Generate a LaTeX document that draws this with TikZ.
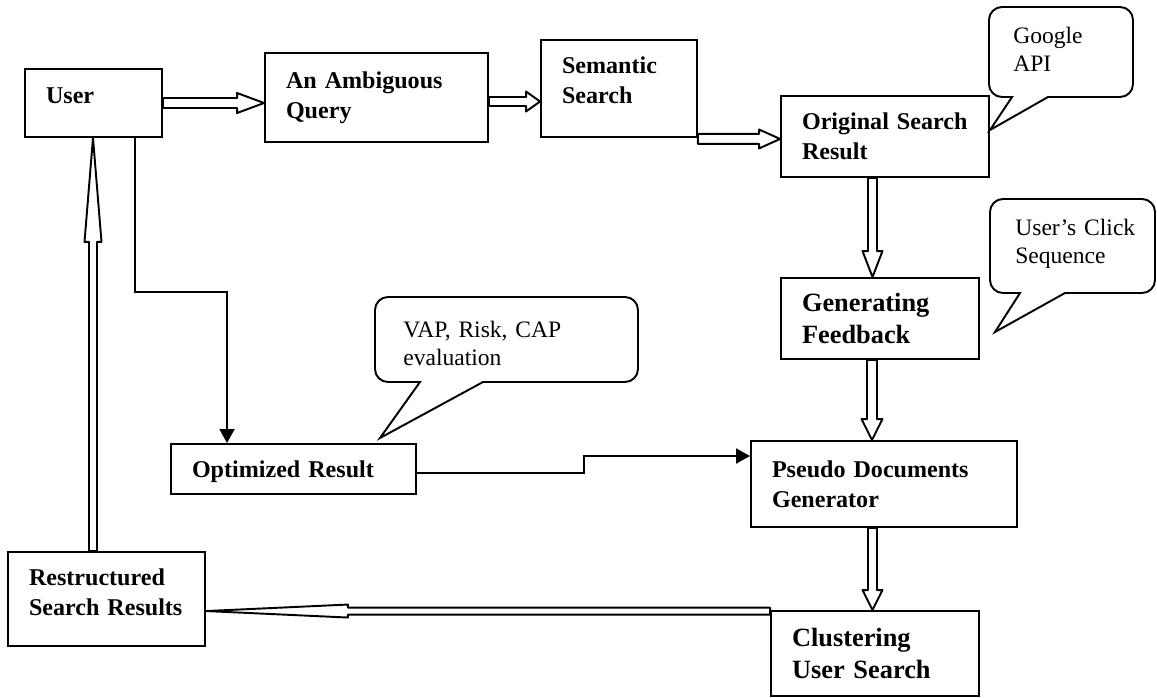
\documentclass[tikz,border=0pt]{standalone}
\usepackage{fontspec}
\setmainfont{Liberation Serif}
\usetikzlibrary{calc,arrows.meta}

\newcommand{\blockfont}{\fontsize{13.7}{17}\selectfont\bfseries}
\newcommand{\bigblockfont}{\fontsize{15}{18.5}\selectfont\bfseries}
\newcommand{\calloutfont}{\fontsize{13.4}{16.5}\selectfont}

% wide outlined arrow: from, to, shaft half width, head half width, head length
\newcommand{\hollowarrow}[5]{%
  \coordinate (ha-base) at ($(#2)!#5!(#1)$);
  \draw[hollow] ($(#1)!#3!90:(#2)$) -- ($(ha-base)!#3!90:(#2)$) -- ($(ha-base)!#4!90:(#2)$)
    -- (#2) -- ($(ha-base)!#4!-90:(#2)$) -- ($(ha-base)!#3!-90:(#2)$) -- ($(#1)!#3!-90:(#2)$) -- cycle;}

\begin{document}
\begin{tikzpicture}[x=0.02cm,y=-0.02cm,>={Triangle[length=0.28cm,width=0.3cm]},
  block/.style={draw,line width=1.1pt,align=left,inner xsep=0.42cm,font=\blockfont},
  bigblock/.style={block,font=\bigblockfont},
  hollow/.style={line width=1.1pt,line join=round},
  bubble/.style={line width=1.1pt},
  note/.style={anchor=base west,inner sep=0pt,align=left,font=\calloutfont}]
\useasboundingbox (0,0) rectangle (1157,697);

% boxes
\node[block,text width=1.90cm,minimum height=1.36cm,text depth=0.3cm] (user) at (93.5,103) {User};
\node[block,text width=3.62cm,minimum height=1.78cm] (query) at (376.5,97.5) {An Ambiguous\\Query};
\node[block,text width=2.28cm,minimum height=1.94cm,text depth=0.92cm] (semantic) at (619,88.5) {Semantic\\Search};
\node[block,text width=3.32cm,minimum height=1.62cm] (original) at (885,136.5) {Original~Search\\Result};
\node[bigblock,text width=3.12cm,minimum height=1.62cm] (feedback) at (880,318.5) {Generating\\Feedback};
\node[block,text width=4.48cm,minimum height=1.72cm] (pseudo) at (884,484) {Pseudo Documents\\Generator};
\node[bigblock,text width=3.32cm,minimum height=1.70cm] (cluster) at (875,653.5) {Clustering\\User~Search};
\node[block,text width=4.06cm,minimum height=1.00cm,text depth=0pt] (optimized) at (293.5,469) {Optimized Result};
\node[block,text width=3.10cm,minimum height=1.88cm,text depth=0.88cm] (restructured) at (106.5,599) {Restructured\\Search~Results};

% wide arrows
\coordinate (a1) at (user.east);
\coordinate (b1) at (query.west |- a1);
\hollowarrow{a1}{b1}{0.1cm}{0.2cm}{0.54cm}
\coordinate (a2) at ([yshift=-0.08cm]query.east);
\coordinate (b2) at (semantic.west |- a2);
\hollowarrow{a2}{b2}{0.09cm}{0.2cm}{0.28cm}
\coordinate (a3) at ([yshift=-0.02cm]semantic.south east);
\coordinate (b3) at (original.west |- a3);
\hollowarrow{a3}{b3}{0.1cm}{0.19cm}{0.42cm}
\coordinate (a4) at ([xshift=-0.25cm]original.south);
\coordinate (b4) at (feedback.north -| a4);
\hollowarrow{a4}{b4}{0.09cm}{0.2cm}{0.52cm}
\coordinate (a5) at ([xshift=-0.16cm]feedback.south);
\coordinate (b5) at (pseudo.north -| a5);
\hollowarrow{a5}{b5}{0.1cm}{0.21cm}{0.42cm}
\coordinate (a6) at ([xshift=-0.23cm]pseudo.south);
\coordinate (b6) at (cluster.north -| a6);
\hollowarrow{a6}{b6}{0.09cm}{0.2cm}{0.4cm}
\coordinate (a7) at ([yshift=-0.02cm]cluster.north west);
\coordinate (b7) at (restructured.east |- a7);
\hollowarrow{a7}{b7}{0.07cm}{0.13cm}{2.84cm}
\coordinate (a8) at ([xshift=-0.27cm]restructured.north);
\coordinate (b8) at (user.south -| a8);
\hollowarrow{a8}{b8}{0.08cm}{0.17cm}{2.08cm}

% plain arrows
\draw[->,line width=1.1pt] ([xshift=0.83cm]user.south) -- ++(0,154) -| ([xshift=-1.33cm]optimized.north);
\draw[->,line width=1.1pt] ([yshift=-0.08cm]optimized.east) -- ++(167,0) |- ([yshift=0.56cm]pseudo.west);

% callouts
\node[note,text width=2.4cm] (google) at (1013,43) {Google\\API};
\draw[bubble] (1048,97) [rounded corners=0.26cm] -- (1133,97) -- (1133,7) -- (989,7) -- (989,97) [sharp corners] -- (1012,97) -- (990,130) -- cycle;
\node[note,text width=2.8cm] (click) at (1015,235) {User's Click\\Sequence};
\draw[bubble] (1065,293) [rounded corners=0.26cm] -- (1155,293) -- (1155,199) -- (990,199) -- (990,293) [sharp corners] -- (1020,293) -- (995,332) -- cycle;
\node[note,text width=4.6cm] (vap) at (403,337) {VAP, Risk, CAP\\evaluation};
\draw[bubble] (483,382) [rounded corners=0.26cm] -- (638,382) -- (638,297) -- (375,297) -- (375,382) [sharp corners] -- (420,382) -- (380,438) -- cycle;
\end{tikzpicture}
\end{document}
